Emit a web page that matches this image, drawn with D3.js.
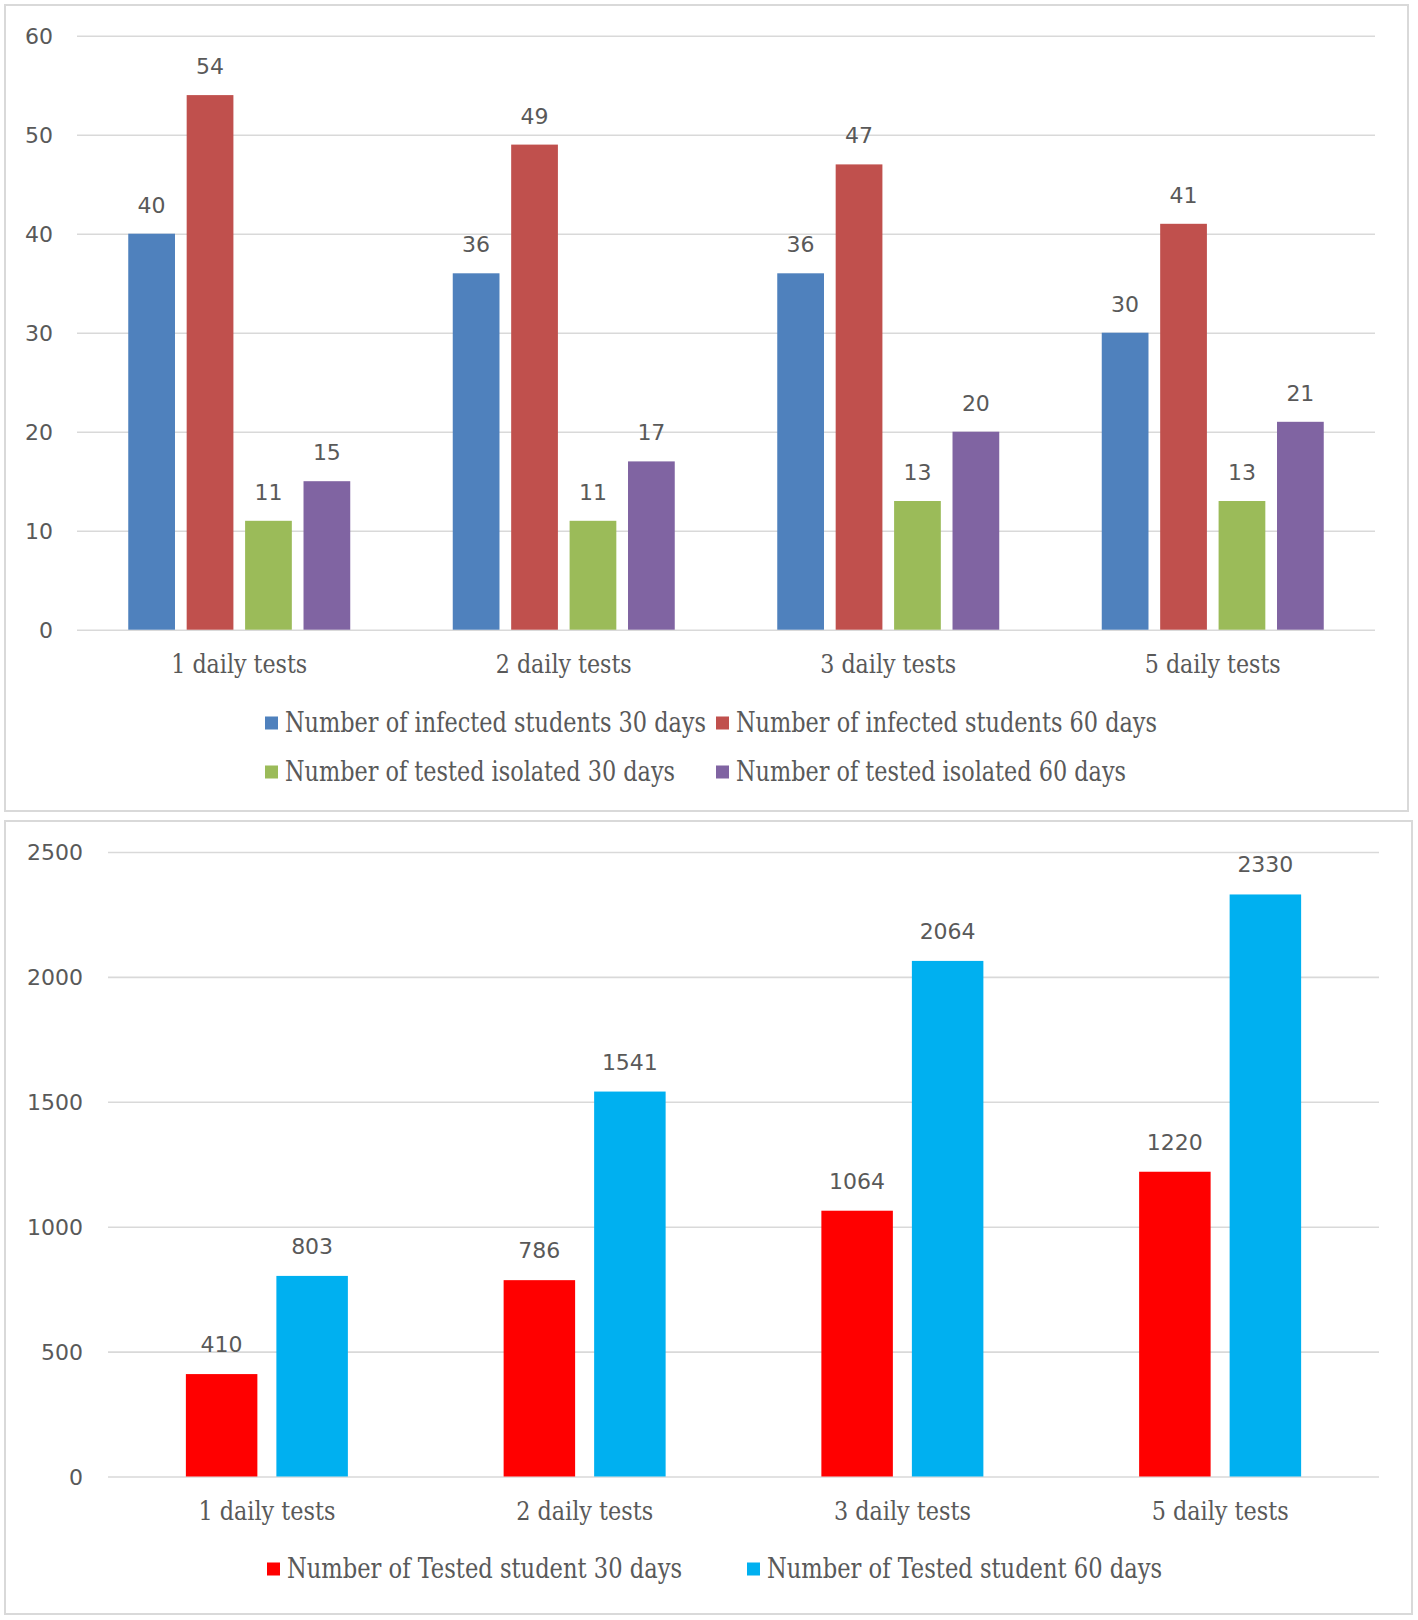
<!DOCTYPE html>
<html><head><meta charset="utf-8">
<script src="https://cdn.jsdelivr.net/npm/d3@7"></script>
<style>
html,body{margin:0;padding:0;background:#fff;}
svg{display:block;}
</style></head>
<body>
<svg id="c" width="1418" height="1620"></svg>
<script>
// ---- data ----
const categories = ["1 daily tests", "2 daily tests", "3 daily tests", "5 daily tests"];

const topSeries = [
  "Number of infected students 30 days",
  "Number of infected students 60 days",
  "Number of tested isolated 30 days",
  "Number of tested isolated 60 days"
];
const infected30 = [40, 36, 36, 30];
const infected60 = [54, 49, 47, 41];
const isolated30 = [11, 11, 13, 13];
const isolated60 = [15, 17, 20, 21];
const topTicks = [0, 10, 20, 30, 40, 50, 60];

const bottomSeries = ["Number of Tested student 30 days", "Number of Tested student 60 days"];
const tested30 = [410, 786, 1064, 1220];
const tested60 = [803, 1541, 2064, 2330];
const bottomTicks = [0, 500, 1000, 1500, 2000, 2500];

// ---- styling ----
const topColors = ["#4F81BD", "#C0504D", "#9BBB59", "#8064A2"];
const bottomColors = ["#FF0000", "#00B0F0"];
const textColor = "#595959";
const gridColor = "#D9D9D9";
const sansFont = "'DejaVu Sans', Verdana, sans-serif";
const serifFont = "'DejaVu Serif Condensed', 'DejaVu Serif', 'Liberation Serif', serif";

const svg = d3.select("#c");

function panel(cfg) {
  const g = svg.append("g");
  g.append("rect").attr("x", cfg.box[0]).attr("y", cfg.box[1])
    .attr("width", cfg.box[2] - cfg.box[0]).attr("height", cfg.box[3] - cfg.box[1])
    .attr("fill", "#fff").attr("stroke", gridColor).attr("stroke-width", 2);

  const y = d3.scaleLinear().domain(cfg.yDomain).range([cfg.y0, cfg.y1]);
  const x0 = d3.scaleBand().domain(categories).range([cfg.xL, cfg.xR]).padding(0);
  const x1 = d3.scaleBand().domain(cfg.series).range([0, cfg.groupW]).paddingInner(cfg.innerPad).paddingOuter(0);

  const yAxis = d3.axisLeft(y).tickValues(cfg.ticks).tickSize(-(cfg.xR - cfg.xL)).tickPadding(cfg.tickPad).tickFormat(d3.format("d"));
  const ga = g.append("g").attr("transform", `translate(${cfg.xL},0)`).call(yAxis);
  ga.select(".domain").remove();
  ga.selectAll(".tick line").attr("stroke", gridColor).attr("stroke-width", 1.6);
  ga.selectAll(".tick text").attr("fill", textColor).attr("font-family", sansFont)
    .attr("font-size", 22).attr("dy", "0.35em");

  cfg.series.forEach((s, si) => {
    const vals = cfg.values[si];
    const gs = g.append("g");
    gs.selectAll("rect").data(vals).join("rect")
      .attr("x", (d, i) => x0(categories[i]) + x0.bandwidth() / 2 - cfg.groupW / 2 + x1(s))
      .attr("width", x1.bandwidth())
      .attr("y", d => y(d))
      .attr("height", d => y(0) - y(d))
      .attr("fill", cfg.colors[si]);
    gs.selectAll("text").data(vals).join("text")
      .attr("x", (d, i) => x0(categories[i]) + x0.bandwidth() / 2 - cfg.groupW / 2 + x1(s) + x1.bandwidth() / 2)
      .attr("y", d => y(d) - cfg.labelOff)
      .attr("text-anchor", "middle")
      .attr("fill", textColor).attr("font-family", sansFont).attr("font-size", 22)
      .text(d => d);
  });

  const xAxis = d3.axisBottom(x0).tickSize(0).tickPadding(0);
  const gx = g.append("g").attr("transform", `translate(0,${cfg.catY})`).call(xAxis);
  gx.select(".domain").remove();
  gx.selectAll(".tick text").attr("fill", textColor).attr("font-family", serifFont)
    .attr("font-size", 26).attr("dy", 0)
    .attr("textLength", cfg.catLen).attr("lengthAdjust", "spacingAndGlyphs");

  cfg.series.forEach((s, si) => {
    const [lx, ly, len] = cfg.legend[si];
    g.append("rect").attr("x", lx).attr("y", ly - 6.5).attr("width", 13).attr("height", 13).attr("fill", cfg.colors[si]);
    g.append("text").attr("x", lx + 20).attr("y", ly + 9)
      .attr("fill", textColor).attr("font-family", serifFont).attr("font-size", 27)
      .attr("textLength", len).attr("lengthAdjust", "spacingAndGlyphs")
      .text(s);
  });
}

panel({
  box: [5, 5, 1408, 811],
  yDomain: [0, 60], y0: 629.7, y1: 35.7,
  xL: 77, xR: 1375,
  groupW: 222, innerPad: 0.2,
  series: topSeries, values: [infected30, infected60, isolated30, isolated60],
  colors: topColors, ticks: topTicks, tickPad: 24,
  labelOff: 21, catY: 673, catLen: 136,
  legend: [[265, 723, 421], [716, 723, 421], [265, 772, 390], [716, 772, 390]]
});

panel({
  box: [5, 821, 1412, 1614],
  yDomain: [0, 2500], y0: 1476.5, y1: 852,
  xL: 108, xR: 1379,
  groupW: 162, innerPad: 0.21,
  series: bottomSeries, values: [tested30, tested60],
  colors: bottomColors, ticks: bottomTicks, tickPad: 25,
  labelOff: 22, catY: 1520, catLen: 137,
  legend: [[267, 1569, 395], [747, 1569, 395]]
});
</script>
</body></html>
